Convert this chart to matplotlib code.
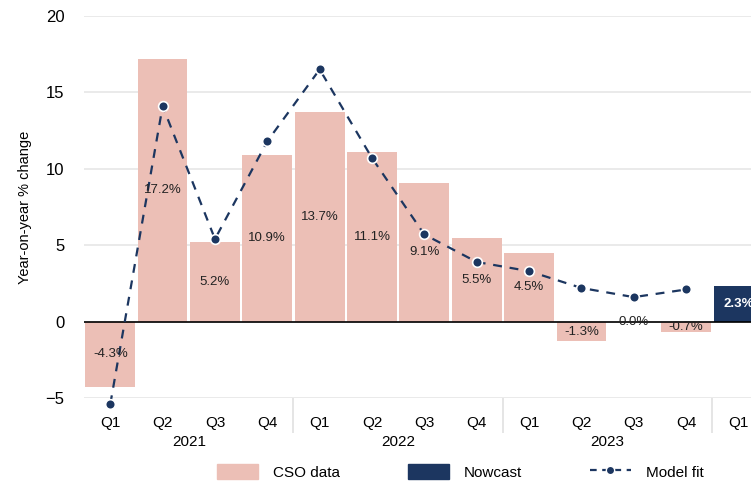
import numpy as np
import matplotlib.pyplot as plt
from matplotlib.patches import Patch
from matplotlib.lines import Line2D

plt.rcParams['font.family'] = ['Liberation Sans', 'DejaVu Sans']

quarters = ["Q1", "Q2", "Q3", "Q4", "Q1", "Q2", "Q3", "Q4", "Q1", "Q2", "Q3", "Q4", "Q1"]
years = ["2021", "2022", "2023"]
cso = [-4.3, 17.2, 5.2, 10.9, 13.7, 11.1, 9.1, 5.5, 4.5, -1.3, 0.0, -0.7]
nowcast = [2.3]
model_fit = [-5.4, 14.1, 5.4, 11.8, 16.5, 10.7, 5.7, 3.9, 3.3, 2.2, 1.6, 2.1]

pink = "#ecbfb6"
navy = "#1c3660"

fig = plt.figure(figsize=(7.51, 4.83), dpi=100)
ax = fig.add_axes([0.112, 0.176, 0.888, 0.791])

x = np.arange(len(quarters))
xc = x[:len(cso)]
xn = x[len(cso):]

ax.bar(xc, cso, width=0.95, color=pink, zorder=2)
ax.bar(xn, nowcast, width=0.95, color=navy, zorder=2)
ax.axhline(0, color="black", lw=1.2, zorder=3)

ax.plot(xc, model_fit, ls=(0, (4, 3.5)), color=navy, lw=1.6, marker="o", ms=7,
        mfc=navy, mec="white", mew=1.2, zorder=4, clip_on=False)

for xi, v in zip(xc, cso):
    ax.text(xi, v / 2, "%.1f%%" % v, ha="center", va="center", fontsize=9.5,
            color="#222222", zorder=5)
for xi, v in zip(xn, nowcast):
    ax.text(xi, v / 2, "%.1f%%" % v, ha="center", va="center", fontsize=9.5,
            color="white", fontweight="bold", zorder=5, clip_on=True)

ax.set_xlim(-0.5, 12.24)
ax.set_ylim(-5, 20)
ax.set_yticks([-5, 0, 5, 10, 15, 20])
ax.set_yticklabels(["\u22125", "0", "5", "10", "15", "20"])
ax.grid(axis="y", color="#e6e6e6", lw=1.2, zorder=0)
ax.set_axisbelow(True)
for s in ax.spines.values():
    s.set_visible(False)
ax.tick_params(axis="y", length=0, labelsize=12, pad=14)
ax.set_xticks(x)
ax.set_xticklabels(quarters)
ax.tick_params(axis="x", length=0, labelsize=11, pad=13)
ax.set_ylabel("Year-on-year % change", fontsize=10.5, labelpad=10)

# year separators and labels
ax.set_xticks([3.5, 7.5, 11.5], minor=True)
ax.tick_params(axis="x", which="minor", length=25, color="#e0e0e0", width=1.2)
for i, yr in enumerate(years):
    ax.text(1.5 + 4 * i, -0.115, yr, transform=ax.get_xaxis_transform(),
            ha="center", va="center", fontsize=11)

handles = [Patch(color=pink), Patch(color=navy),
           Line2D([], [], ls=(0, (3, 2.5)), color=navy, lw=1.6, marker="o", ms=6,
                  mfc=navy, mec="white")]
fig.legend(handles, ["CSO data", "Nowcast", "Model fit"], loc="center",
           bbox_to_anchor=(0.613, 0.023), ncol=3, frameon=False, fontsize=11,
           handlelength=2.7, handleheight=1.1, handletextpad=1.0, columnspacing=4.4)

fig.savefig("out.png", dpi=100)
